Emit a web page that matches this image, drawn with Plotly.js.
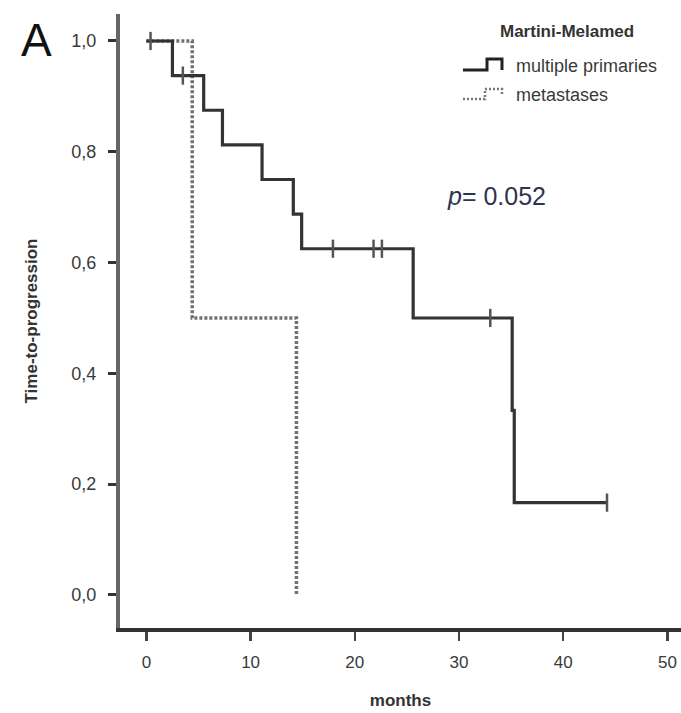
<!DOCTYPE html>
<html>
<head>
<meta charset="utf-8">
<script src="https://cdn.plot.ly/plotly-3.0.1.min.js"></script>
<style>
  html, body { margin: 0; padding: 0; background: #fff; }
  #chart { width: 681px; height: 713px; }
</style>
</head>
<body>
<div id="chart"></div>
<script>
// Kaplan-Meier time-to-progression, Martini-Melamed classification

// multiple primaries: event times (months) and survival after each step
const primTimes = [0, 2.5, 5.5, 7.3, 11.1, 14.1, 14.9, 25.6, 35.1, 35.3, 44.2];
const primSurv  = [1.0, 0.9375, 0.875, 0.8125, 0.75, 0.6875, 0.625, 0.5, 0.3333, 0.1667, 0.1667];
// censored observations for multiple primaries
const primCensTimes = [0.4, 3.5, 17.9, 21.8, 22.6, 33.0, 44.2];
const primCensSurv  = [1.0, 0.9375, 0.625, 0.625, 0.625, 0.5, 0.1667];

// metastases
const metTimes = [0, 4.4, 14.4];
const metSurv  = [1.0, 0.5, 0.0];

const yTickVals  = [0, 0.2, 0.4, 0.6, 0.8, 1.0];
const yTickText  = ["0,0", "0,2", "0,4", "0,6", "0,8", "1,0"];
const xTickVals  = [0, 10, 20, 30, 40, 50];

const FONT = "Liberation Sans, Arial, sans-serif";
const W = 681, H = 713;
const M = { l: 120, r: 0, t: 14, b: 85 };

// pixel position -> paper coordinates for the hand-drawn legend glyphs and labels
function px(x) { return (x - M.l) / (W - M.l - M.r); }
function py(y) { return (H - M.b - y) / (H - M.t - M.b); }
function path(points) {
  return points.map((p, i) => (i ? "L" : "M") + px(p[0]).toFixed(4) + "," + py(p[1]).toFixed(4)).join(" ");
}
function label(x, y, text, font, xanchor) {
  return { xref: "paper", yref: "paper", x: px(x), y: py(y), text: text, showarrow: false,
           xanchor: xanchor || "center", yanchor: "middle", font: font };
}

const traces = [
  {
    x: metTimes, y: metSurv, mode: "lines", line: { shape: "hv", color: "#707070", width: 3.5, dash: "3px,2px" },
    hoverinfo: "skip", showlegend: false
  },
  {
    x: primTimes, y: primSurv, mode: "lines", line: { shape: "hv", color: "#333333", width: 3.2 },
    hoverinfo: "skip", showlegend: false
  },
  {
    x: primCensTimes, y: primCensSurv, mode: "markers",
    marker: { symbol: "line-ns", size: 13, line: { width: 2.5, color: "#555" } },
    hoverinfo: "skip", showlegend: false
  }
];

const layout = {
  width: W, height: H,
  margin: M,
  paper_bgcolor: "#fff", plot_bgcolor: "#fff",
  font: { family: FONT, color: "#3a3a3a", size: 17 },
  showlegend: false,
  xaxis: {
    range: [-2.53, 51.3], tickvals: xTickVals, ticktext: xTickVals.map(String),
    showgrid: false, zeroline: false, showline: true, linecolor: "#333", linewidth: 4,
    ticks: "outside", ticklen: 9, tickwidth: 2.5, tickcolor: "#444",
    ticklabelstandoff: 7,
    tickfont: { family: FONT, size: 17, color: "#3a3a3a" },
    title: { text: "<b>months</b>", font: { family: FONT, size: 17, color: "#333" }, standoff: 24 }
  },
  yaxis: {
    range: [-0.0596, 1.0487], tickvals: yTickVals, ticktext: yTickText,
    showgrid: false, zeroline: false, showline: true, linecolor: "#666", linewidth: 4,
    ticks: "outside", ticklen: 8, tickwidth: 3, tickcolor: "#333",
    ticklabelstandoff: 8,
    tickfont: { family: FONT, size: 18, color: "#3a3a3a" },
    title: { text: "<b>Time-to-progression</b>", font: { family: FONT, size: 17, color: "#333" }, standoff: 30 }
  },
  annotations: [
    label(36, 40, "A", { family: FONT, size: 46, color: "#111" }),
    label(567, 31, "<b>Martini-Melamed</b>", { family: FONT, size: 17, color: "#333" }),
    label(514, 66, "multiple primaries", { family: FONT, size: 18, color: "#3a3a3a" }, "left"),
    label(514, 95, "metastases", { family: FONT, size: 18, color: "#3a3a3a" }, "left"),
    label(496, 196, "<i>p</i>= 0.052", { family: FONT, size: 25, color: "#2e3350" })
  ],
  shapes: [
    { type: "path", xref: "paper", yref: "paper",
      path: path([[463, 70], [487, 70], [487, 59], [502, 59], [502, 70]]),
      line: { color: "#222", width: 3 } },
    { type: "path", xref: "paper", yref: "paper",
      path: path([[463, 99], [485, 99], [485, 89], [502, 89], [502, 96]]),
      line: { color: "#777", width: 2.5, dash: "2px,2px" } }
  ]
};

Plotly.newPlot("chart", traces, layout, { staticPlot: true, displayModeBar: false });
</script>
</body>
</html>
